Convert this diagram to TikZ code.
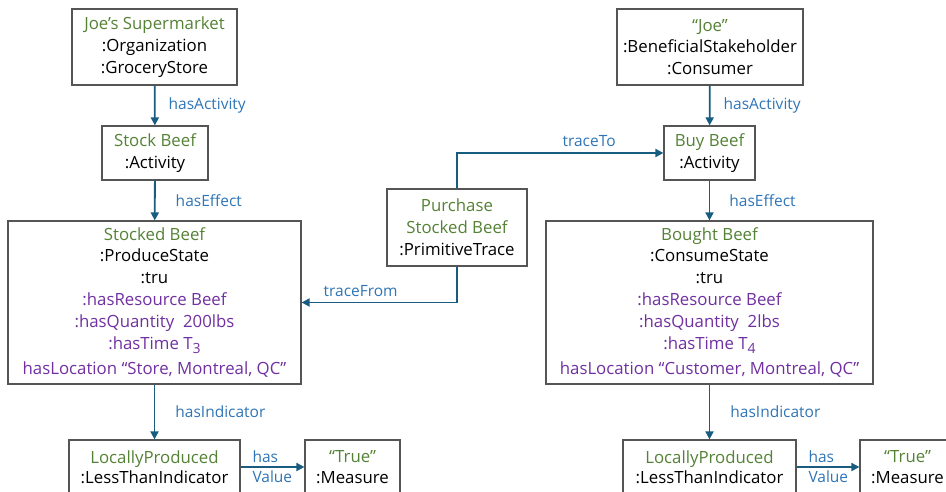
\documentclass[tikz,border=0pt]{standalone}
\usepackage{fontspec}
\setmainfont{Open Sans}
\usetikzlibrary{arrows.meta}
\definecolor{gr}{RGB}{84,130,53}
\definecolor{pu}{RGB}{112,48,160}
\definecolor{lb}{RGB}{46,117,182}
\definecolor{ar}{RGB}{24,92,128}
\definecolor{bd}{RGB}{85,85,85}
\newcommand{\gt}[1]{\textcolor{gr}{#1}}
\newcommand{\pt}[1]{\textcolor{pu}{#1}}
\newcommand{\sbs}[1]{\raisebox{-4.5pt}{\fontsize{14}{14}\selectfont #1}}
\begin{document}
\begin{tikzpicture}[x=1pt,y=-1pt,
  every node/.style={font=\fontsize{16.8}{21.8}\selectfont},
  box/.style={draw=bd,line width=1.2pt,align=center,inner sep=1pt},
  lowbox/.style={box,minimum height=54pt,font=\fontsize{16.8}{20.5}\selectfont},
  arr/.style={draw=ar,line width=1.8pt,-{Triangle[length=8pt,width=8pt]}},
  lbl/.style={text=lb,font=\fontsize{15.5}{20}\selectfont,inner sep=1pt}]
\useasboundingbox (0,0) rectangle (946,492);
% left column
\node[box,minimum width=165pt,minimum height=76pt] (org) at (154.5,47) {\gt{Joe’s Supermarket}\\:Organization\\:GroceryStore};
\node[box,minimum width=106pt,minimum height=54pt] (stock) at (155,153) {\gt{Stock Beef}\\:Activity};
\node[box,minimum width=293pt,minimum height=163pt] (stocked) at (154.5,302.5) {\gt{Stocked Beef}\\:ProduceState\\:tru\\\pt{:hasResource Beef}\\\pt{:hasQuantity\ \ 200lbs}\\\pt{:hasTime T\sbs{3}}\\[4pt]\pt{hasLocation “Store, Montreal, QC”}};
\node[lowbox,minimum width=171pt] (lpl) at (154.5,467) {\gt{LocallyProduced}\\:LessThanIndicator};
\node[lowbox,minimum width=95pt] (truel) at (352.5,467) {\gt{“True”}\\:Measure};
% middle
\node[box,minimum width=140pt,minimum height=77pt] (pst) at (457,227.5) {\gt{Purchase}\\\gt{Stocked Beef}\\:PrimitiveTrace};
% right column
\node[box,minimum width=186pt,minimum height=76pt] (joe) at (710,47) {\gt{“Joe”}\\:BeneficialStakeholder\\:Consumer};
\node[box,minimum width=91pt,minimum height=54pt] (buy) at (709.5,153) {\gt{Buy Beef}\\:Activity};
\node[box,minimum width=327pt,minimum height=163pt] (bought) at (709.5,302.5) {\gt{Bought Beef}\\:ConsumeState\\:tru\\\pt{:hasResource Beef}\\\pt{:hasQuantity\ \ 2lbs}\\\pt{:hasTime T\sbs{4}}\\[4pt]\pt{hasLocation “Customer, Montreal, QC”}};
\node[lowbox,minimum width=173pt] (lpr) at (709.5,467) {\gt{LocallyProduced}\\:LessThanIndicator};
\node[lowbox,minimum width=95pt] (truer) at (907.5,467) {\gt{“True”}\\:Measure};
% connectors
\draw[arr] (org) -- (stock) node[midway,right=12pt,lbl] {hasActivity};
\draw[arr] (stock) -- (stocked) node[midway,right=19pt,lbl] {hasEffect};
\draw[arr] (stocked) -- (lpl) node[midway,right=19pt,lbl] {hasIndicator};
\draw[arr] (lpl) -- (truel) node[pos=0,anchor=west,lbl,align=left,xshift=10pt] {has\\Value};
\draw[arr] (joe) -- (buy) node[midway,right=12pt,lbl] {hasActivity};
\draw[arr] (buy) -- (bought) node[midway,right=18pt,lbl] {hasEffect};
\draw[arr] (bought) -- (lpr) node[midway,right=19pt,lbl] {hasIndicator};
\draw[arr] (lpr) -- (truer) node[pos=0,anchor=west,lbl,align=left,xshift=10pt] {has\\Value};
\draw[arr] (pst.north) |- (buy.west) node[pos=0.82,above=4pt,lbl] {traceTo};
\draw[arr] (pst.south) |- (stocked.east) node[pos=0.81,above=4pt,lbl] {traceFrom};
\end{tikzpicture}
\end{document}
